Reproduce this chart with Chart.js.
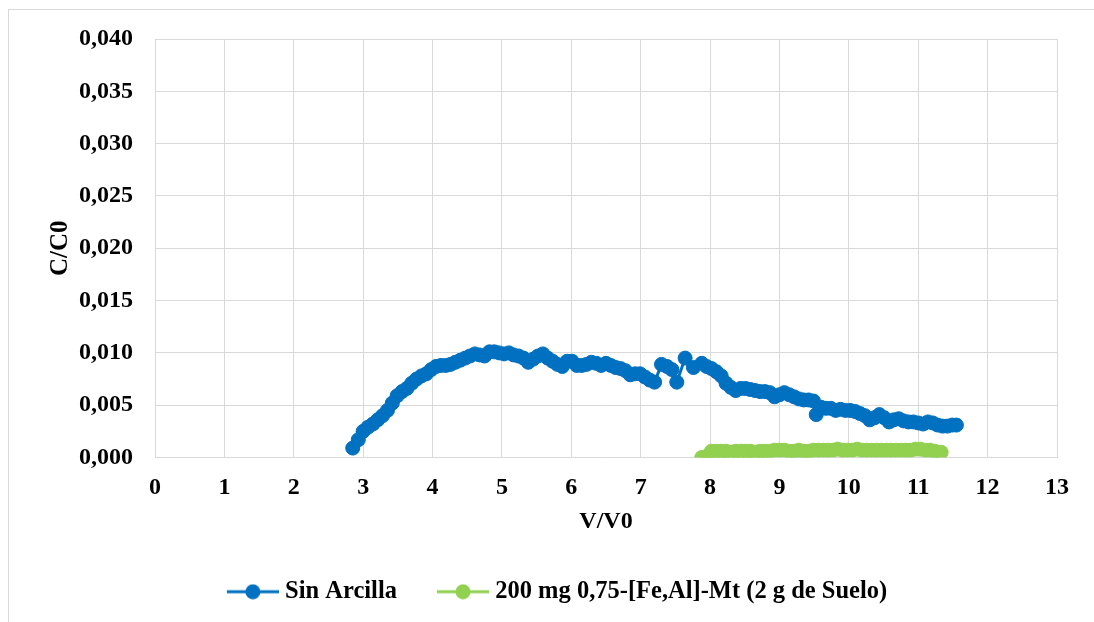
<!DOCTYPE html>
<html><head><meta charset="utf-8">
<script src="https://cdn.jsdelivr.net/npm/chart.js@4"></script>
<style>html,body{margin:0;padding:0;background:#fff;}canvas{display:block;}</style>
</head><body>
<canvas id="c" width="1094" height="622"></canvas>
<script>
const seriesNames = ['Sin Arcilla', '200 mg 0,75-[Fe,Al]-Mt (2 g de Suelo)'];
const seriesColors = ['#0070C0', '#92D050'];
const axisTitles = { x: 'V/V0', y: 'C/C0' };
const xTickLabels = ['0','1','2','3','4','5','6','7','8','9','10','11','12','13'];
const yTickLabels = ['0,000','0,005','0,010','0,015','0,020','0,025','0,030','0,035','0,040'];

const sinArcillaX = [2.85,2.93,3.00,3.07,3.14,3.21,3.28,3.35,3.42,3.49,3.56,3.63,3.70,3.77,3.84,3.91,3.98,4.05,4.12,4.19,4.26,4.33,4.40,4.47,4.54,4.61,4.68,4.75,4.82,4.89,4.96,5.03,5.10,5.17,5.24,5.31,5.38,5.45,5.52,5.59,5.66,5.73,5.80,5.87,5.94,6.01,6.08,6.15,6.22,6.29,6.36,6.43,6.50,6.57,6.64,6.71,6.78,6.85,6.92,6.99,7.06,7.13,7.20,7.30,7.38,7.45,7.52,7.64,7.76,7.88,7.95,8.02,8.09,8.16,8.23,8.30,8.37,8.44,8.51,8.58,8.65,8.72,8.79,8.86,8.93,9.00,9.07,9.14,9.21,9.28,9.35,9.42,9.49,9.53,9.60,9.67,9.74,9.81,9.88,9.95,10.02,10.09,10.16,10.23,10.30,10.37,10.44,10.51,10.58,10.65,10.72,10.79,10.86,10.93,11.00,11.07,11.14,11.21,11.28,11.35,11.42,11.49,11.55];
const sinArcillaY = [0.0009,0.0017,0.0025,0.0029,0.0032,0.0036,0.0040,0.0045,0.0052,0.0059,0.0063,0.0066,0.0071,0.0075,0.0078,0.0080,0.0084,0.0087,0.0088,0.0088,0.0089,0.0091,0.0093,0.0095,0.0097,0.0099,0.0098,0.0097,0.0101,0.0101,0.0100,0.0099,0.0100,0.0098,0.0097,0.0095,0.0091,0.0094,0.0097,0.0099,0.0095,0.0092,0.0089,0.0087,0.0092,0.0092,0.0088,0.0088,0.0089,0.0091,0.0090,0.0088,0.0090,0.0088,0.0086,0.0085,0.0083,0.0079,0.0080,0.0080,0.0077,0.0074,0.0072,0.0089,0.0087,0.0084,0.0072,0.0095,0.0086,0.0090,0.0087,0.0085,0.0082,0.0078,0.0071,0.0067,0.0064,0.0066,0.0066,0.0065,0.0064,0.0063,0.0063,0.0062,0.0058,0.0060,0.0062,0.0060,0.0058,0.0056,0.0055,0.0055,0.0054,0.0041,0.0048,0.0047,0.0047,0.0045,0.0046,0.0045,0.0045,0.0044,0.0042,0.0040,0.0036,0.0038,0.0041,0.0038,0.0034,0.0036,0.0037,0.0035,0.0034,0.0034,0.0033,0.0032,0.0034,0.0033,0.0031,0.0030,0.0030,0.0031,0.0031];

const mtX = [7.88,7.95,8.02,8.09,8.16,8.23,8.30,8.37,8.44,8.51,8.58,8.65,8.72,8.79,8.86,8.93,9.00,9.07,9.14,9.21,9.28,9.35,9.42,9.49,9.56,9.63,9.70,9.77,9.84,9.91,9.98,10.05,10.12,10.19,10.26,10.33,10.40,10.47,10.54,10.61,10.68,10.75,10.82,10.89,10.96,11.03,11.10,11.17,11.24,11.33];
const mtY = [0.0000,0.0001,0.0006,0.0006,0.0006,0.0006,0.0005,0.0006,0.0006,0.0006,0.0006,0.0005,0.0006,0.0006,0.0006,0.0007,0.0007,0.0007,0.0006,0.0006,0.0007,0.0006,0.0006,0.0007,0.0007,0.0007,0.0007,0.0007,0.0008,0.0007,0.0007,0.0007,0.0008,0.0007,0.0007,0.0007,0.0007,0.0007,0.0007,0.0007,0.0007,0.0007,0.0007,0.0007,0.0008,0.0008,0.0007,0.0007,0.0006,0.0005];

const FONT = "'Liberation Serif','Times New Roman',serif";
const GRID = '#d9d9d9';

function legendImage(color) {
  const cv = document.createElement('canvas');
  cv.width = 80; cv.height = 16;
  const g = cv.getContext('2d');
  g.strokeStyle = color; g.lineWidth = 3;
  g.beginPath(); g.moveTo(28, 8); g.lineTo(80, 8); g.stroke();
  g.fillStyle = color;
  g.beginPath(); g.arc(54, 8, 7.5, 0, Math.PI * 2); g.fill();
  return cv;
}

const frame = {
  id: 'frame',
  beforeDraw(chart) {
    const ctx = chart.ctx;
    ctx.save();
    ctx.fillStyle = '#fff';
    ctx.fillRect(0, 0, chart.width, chart.height);
    ctx.strokeStyle = GRID; ctx.lineWidth = 1;
    ctx.strokeRect(8.5, 9.5, 1200, 800);
    ctx.restore();
  }
};

const toPts = (xs, ys) => xs.map((x, i) => ({ x: x, y: ys[i] }));

new Chart(document.getElementById('c'), {
  type: 'line',
  data: {
    datasets: [
      { label: seriesNames[0], data: toPts(sinArcillaX, sinArcillaY), borderColor: seriesColors[0], backgroundColor: seriesColors[0],
        pointBackgroundColor: seriesColors[0], pointBorderColor: seriesColors[0], borderWidth: 3, pointRadius: 7, pointBorderWidth: 1, tension: 0 },
      { label: seriesNames[1], data: toPts(mtX, mtY), borderColor: seriesColors[1], backgroundColor: seriesColors[1],
        pointBackgroundColor: seriesColors[1], pointBorderColor: seriesColors[1], borderWidth: 3, pointRadius: 7, pointBorderWidth: 1, tension: 0 }
    ]
  },
  options: {
    responsive: false, animation: false, devicePixelRatio: 1,
    layout: { padding: { left: 35, right: 37, top: 39, bottom: 8 } },
    plugins: {
      tooltip: { enabled: false },
      legend: {
        position: 'bottom',
        labels: {
          usePointStyle: true, pointStyleWidth: 68, padding: 18,
          color: '#000', font: { family: FONT, size: 24.5, weight: 'bold' },
          generateLabels(chart) {
            return chart.data.datasets.map((d, i) => ({
              text: d.label, pointStyle: legendImage(seriesColors[i]), fillStyle: seriesColors[i],
              strokeStyle: seriesColors[i], lineWidth: 0, hidden: false, datasetIndex: i
            }));
          }
        }
      }
    },
    scales: {
      x: {
        type: 'linear', min: 0, max: 13,
        ticks: { stepSize: 1, padding: 16, color: '#000', font: { family: FONT, size: 24, weight: 'bold' },
          callback: (v) => xTickLabels[v] !== undefined ? xTickLabels[v] : '' , maxRotation: 0 },
        grid: { color: GRID, lineWidth: 1, drawTicks: false },
        border: { color: GRID },
        title: { display: true, text: axisTitles.x, color: '#000', font: { family: FONT, size: 24, weight: 'bold' }, padding: { top: 0, bottom: 25 } },
        afterFit(s) { s.height = 104; }
      },
      y: {
        type: 'linear', min: 0, max: 0.04,
        ticks: { stepSize: 0.005, padding: 22, color: '#000', font: { family: FONT, size: 24, weight: 'bold' },
          callback: (v, i) => yTickLabels[i] },
        grid: { color: GRID, lineWidth: 1, drawTicks: false },
        border: { color: GRID },
        title: { display: true, text: axisTitles.y, color: '#000', font: { family: FONT, size: 25, weight: 'bold' }, padding: { top: 11, bottom: 0 } },
        afterFit(s) { s.width = 120; }
      }
    }
  },
  plugins: [frame]
});
</script>
</body></html>
